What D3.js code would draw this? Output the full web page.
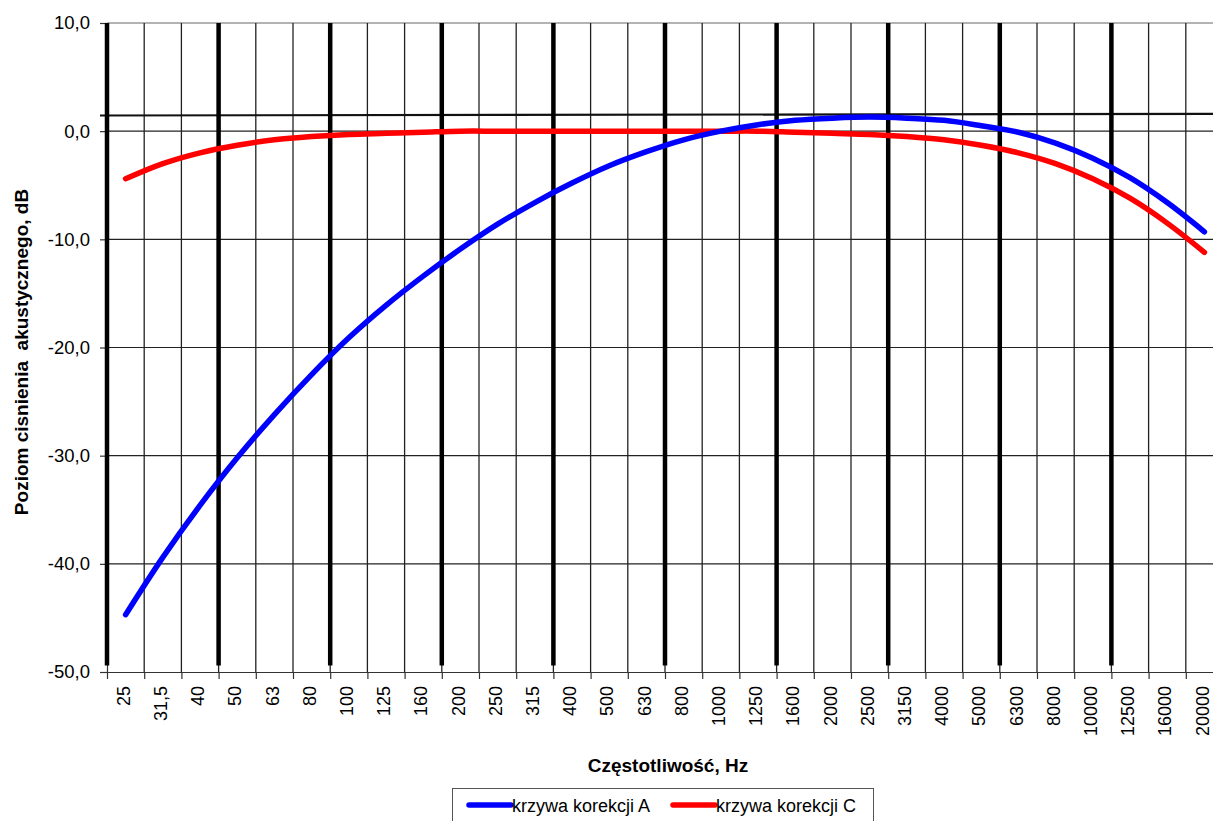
<!DOCTYPE html>
<html>
<head>
<meta charset="utf-8">
<script src="https://cdn.jsdelivr.net/npm/d3@7"></script>
<style>
  body { margin: 0; background: #fff; }
  text { font-family: Arial, "Liberation Sans", sans-serif; fill: #000; }
</style>
</head>
<body>
<script>
// 1/3-octave centre frequencies (Hz) as printed on the axis
const freqs = ["25", "31,5", "40", "50", "63", "80", "100", "125", "160", "200",
  "250", "315", "400", "500", "630", "800", "1000", "1250", "1600", "2000",
  "2500", "3150", "4000", "5000", "6300", "8000", "10000", "12500", "16000", "20000"];

// A-weighting correction, dB
const corrA = [-44.7, -39.4, -34.6, -30.2, -26.2, -22.5, -19.1, -16.1, -13.4, -10.9,
  -8.6, -6.6, -4.8, -3.2, -1.9, -0.8, 0.0, 0.6, 1.0, 1.2,
  1.3, 1.2, 1.0, 0.5, -0.1, -1.1, -2.5, -4.3, -6.6, -9.3];

// C-weighting correction, dB
const corrC = [-4.4, -3.0, -2.0, -1.3, -0.8, -0.5, -0.3, -0.2, -0.1, 0.0,
  0.0, 0.0, 0.0, 0.0, 0.0, 0.0, 0.0, 0.0, -0.1, -0.2,
  -0.3, -0.5, -0.8, -1.3, -2.0, -3.0, -4.4, -6.2, -8.5, -11.2];

// heavy vertical markers stand at the left edge of these bands
const octaveMarks = ["25", "50", "100", "200", "400", "800", "1600", "3150", "6300", "12500"];
const markBottom = -49.4;

const yTicks = [10, 0, -10, -20, -30, -40, -50];
const refLevel = [1.45, 1.6];   // horizontal reference line, start / end

const W = 1213, H = 821;
const plotLeft = 107, plotRight = 1223, plotTop = 23, plotBottom = 672;

const svg = d3.select("body").append("svg")
  .attr("width", W)
  .attr("height", H);

const x = d3.scaleBand().domain(freqs).range([plotLeft, plotRight]).padding(0);
const xb = d3.scaleLinear().domain([0, freqs.length]).range([plotLeft, plotRight]);
const y = d3.scaleLinear().domain([-50, 10]).range([plotBottom, plotTop]);
const cx = d => x(d) + x.bandwidth() / 2;

// horizontal grid
svg.append("g")
  .selectAll("line")
  .data(yTicks.filter(d => d > -50))
  .enter()
  .append("line")
  .attr("x1", plotLeft).attr("x2", plotRight)
  .attr("y1", d => y(d)).attr("y2", d => y(d))
  .attr("stroke", d => d == 10 ? "#9a9a9a" : "#222")
  .attr("stroke-width", d => d == 10 ? 1.5 : 1.2);

// vertical grid at band boundaries
svg.append("g")
  .selectAll("line")
  .data(d3.range(1, freqs.length + 1))
  .enter()
  .append("line")
  .attr("x1", d => xb(d)).attr("x2", d => xb(d))
  .attr("y1", plotTop).attr("y2", plotBottom)
  .attr("stroke", "#222")
  .attr("stroke-width", 1.3);

// reference line
svg.append("line")
  .attr("x1", plotLeft - 7).attr("x2", plotRight)
  .attr("y1", y(refLevel[0])).attr("y2", y(refLevel[1]))
  .attr("stroke", "#111")
  .attr("stroke-width", 2.2);

// y axis
const yAxis = d3.axisLeft(y)
  .tickValues(yTicks)
  .tickSize(7)
  .tickSizeOuter(0)
  .tickPadding(10)
  .tickFormat(d => d.toFixed(1).replace(".", ","));

const gy = svg.append("g")
  .attr("transform", `translate(${plotLeft}, 0)`)
  .call(yAxis);
gy.selectAll("text").style("font-size", "18.5px").attr("fill", "#111");
gy.selectAll("line, path").attr("stroke", "#333").attr("stroke-width", 1.2);

// x axis: boundary ticks
const xTickAxis = d3.axisBottom(xb)
  .tickValues(d3.range(0, freqs.length + 1))
  .tickSize(7)
  .tickSizeOuter(0)
  .tickFormat("");
const gxt = svg.append("g")
  .attr("transform", `translate(0, ${plotBottom})`)
  .call(xTickAxis);
gxt.selectAll("line, path").attr("stroke", "#333").attr("stroke-width", 1.2);

// x axis: rotated labels at band centres
const gx = svg.append("g")
  .attr("transform", `translate(-1.5, ${plotBottom})`)
  .call(d3.axisBottom(x).tickSize(0).tickSizeOuter(0));
gx.select(".domain").remove();
gx.selectAll("text")
  .attr("transform", "rotate(-90)")
  .attr("x", -14)
  .attr("y", 0)
  .attr("dy", "0.32em")
  .attr("text-anchor", "end")
  .attr("fill", "#111")
  .style("font-size", "18px");

// heavy octave markers
svg.append("g")
  .selectAll("line")
  .data(octaveMarks)
  .enter()
  .append("line")
  .attr("x1", d => x(d)).attr("x2", d => x(d))
  .attr("y1", y(10)).attr("y2", y(markBottom))
  .attr("stroke", "#000")
  .attr("stroke-width", 4.5);

// curves
const line = d3.line()
  .x((d, i) => cx(freqs[i]))
  .y(d => y(d))
  .curve(d3.curveCatmullRom.alpha(0.5));

svg.append("path")
  .datum(corrC)
  .attr("d", line)
  .attr("fill", "none")
  .attr("stroke", "#ff0000")
  .attr("stroke-width", 5.5)
  .attr("stroke-linecap", "round")
  .attr("stroke-linejoin", "round");

svg.append("path")
  .datum(corrA)
  .attr("d", line)
  .attr("fill", "none")
  .attr("stroke", "#0000ff")
  .attr("stroke-width", 5.5)
  .attr("stroke-linecap", "round")
  .attr("stroke-linejoin", "round");

// axis titles
svg.append("text")
  .attr("x", 668)
  .attr("y", 772)
  .attr("text-anchor", "middle")
  .style("font-size", "19px")
  .style("font-weight", "bold")
  .text("Częstotliwość, Hz");

svg.append("text")
  .attr("transform", "translate(28, 352) rotate(-90)")
  .attr("text-anchor", "middle")
  .style("font-size", "19px")
  .style("font-weight", "bold")
  .style("white-space", "pre")
  .text("Poziom cisnienia  akustycznego, dB");

// legend
const legend = svg.append("g")
  .attr("id", "legend")
  .attr("transform", "translate(452, 788)");

legend.append("rect")
  .attr("x", 0.5).attr("y", 0.5)
  .attr("width", 421).attr("height", 40)
  .attr("fill", "#fff")
  .attr("stroke", "#555")
  .attr("stroke-width", 1);

const series = [
  { name: "krzywa korekcji A", color: "#0000ff" },
  { name: "krzywa korekcji C", color: "#ff0000" }
];
const offs = [17, 221];

series.forEach((s, i) => {
  legend.append("line")
    .attr("x1", offs[i]).attr("x2", offs[i] + 42)
    .attr("y1", 17).attr("y2", 17)
    .attr("stroke", s.color)
    .attr("stroke-width", 5.5)
    .attr("stroke-linecap", "round");
  legend.append("text")
    .attr("x", offs[i] + 43)
    .attr("y", 23.5)
    .style("font-size", "18px")
    .attr("fill", "#111")
    .text(s.name);
});
</script>
</body>
</html>
